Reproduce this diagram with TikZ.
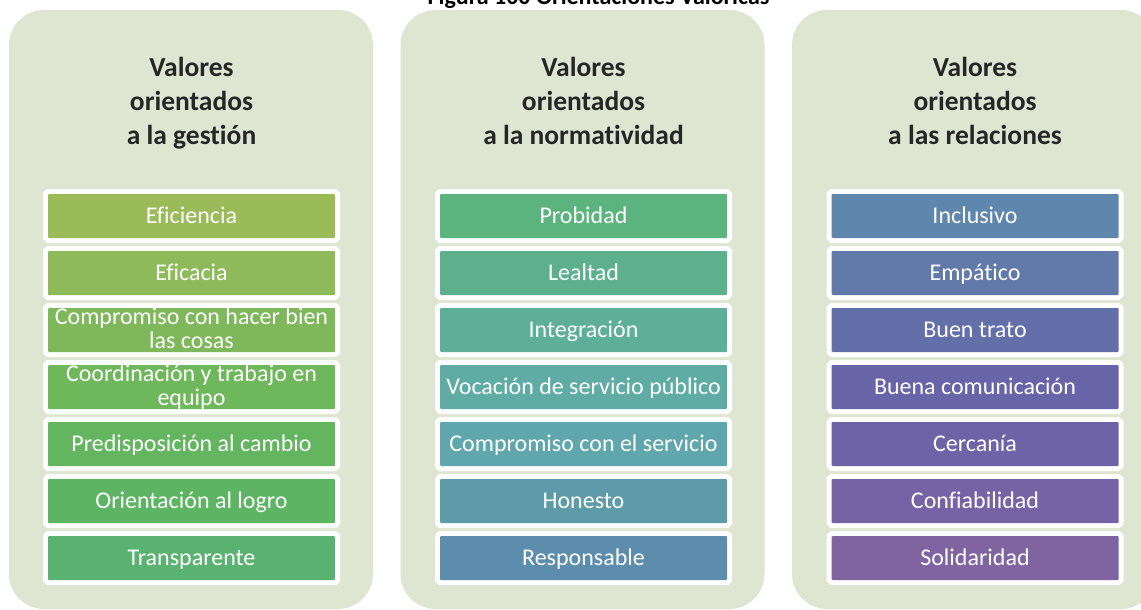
\documentclass[tikz,border=0pt]{standalone}
\usepackage{fontspec}
\setmainfont{Carlito}[Ligatures=NoCommon]
\definecolor{panelbg}{HTML}{DEE6D2}
\definecolor{hdrcol}{HTML}{262626}
\definecolor{ga}{HTML}{9BBB59}
\definecolor{gb}{HTML}{8EBA5A}
\definecolor{gc}{HTML}{7EB85B}
\definecolor{gd}{HTML}{6EB75B}
\definecolor{ge}{HTML}{63B55F}
\definecolor{gf}{HTML}{5DB564}
\definecolor{gg}{HTML}{59B26F}
\definecolor{na}{HTML}{5BB47E}
\definecolor{nb}{HTML}{5CB18C}
\definecolor{nc}{HTML}{5EAF98}
\definecolor{nd}{HTML}{5FACA5}
\definecolor{ne}{HTML}{5FA7AD}
\definecolor{nf}{HTML}{5E9BA9}
\definecolor{ng}{HTML}{5C8DAC}
\definecolor{ra}{HTML}{5F86AC}
\definecolor{rb}{HTML}{617AAA}
\definecolor{rc}{HTML}{636FA9}
\definecolor{rd}{HTML}{6764A7}
\definecolor{re}{HTML}{6D63A6}
\definecolor{rf}{HTML}{7663A5}
\definecolor{rg}{HTML}{8064A2}
\begin{document}
\begin{tikzpicture}[x=1pt,y=-1pt,
  panel/.style={fill=panelbg, rounded corners=35pt},
  vbox/.style={minimum width=287pt, minimum height=44pt, inner sep=0pt,
    rounded corners=1pt, preaction={draw=white, line width=10pt},
    text=white, font=\fontsize{24}{24}\selectfont, text height=17pt, text depth=2pt},
  vtxt/.style={text=white, font=\fontsize{24}{24}\selectfont, align=center, inner sep=0pt},
  hdr/.style={text=hdrcol, font=\fontsize{27.5}{34}\selectfont\bfseries, align=center, inner sep=0pt},
  ttl/.style={text=black, font=\fontsize{24}{24}\selectfont\bfseries, inner sep=0pt}]
\useasboundingbox (0,0) rectangle (1141,610);
% title (cut at the top edge)
\node[ttl, anchor=base] (title) at (598.5,5) {Figura 100 Orientaciones Valóricas};
% panels
\fill[panel] (9,10) rectangle (373,609);
\fill[panel] (400.5,10) rectangle (764.5,609);
\fill[panel] (792,10) rectangle (1156,609);
% headers (anchor base = last line)
\node[hdr, anchor=base] (h1) at (191.5,144) {Valores\\orientados\\a la gestión};
\node[hdr, anchor=base] (h2) at (583.5,144) {Valores\\orientados\\a la normatividad};
\node[hdr, anchor=base] (h3) at (975,144) {Valores\\orientados\\a las relaciones};
% column 1
\node[vbox, fill=ga] (g1) at (191.5,216) {Eficiencia};
\node[vbox, fill=gb] (g2) at (191.5,273) {Eficacia};
\node[vbox, fill=gc] (g3) at (191.5,330) {};
\node[vbox, fill=gd] (g4) at (191.5,387) {};
\node[vbox, fill=ge] (g5) at (191.5,444) {Predisposición al cambio};
\node[vbox, fill=gf] (g6) at (191.5,501) {Orientación al logro};
\node[vbox, fill=gg] (g7) at (191.5,558) {Transparente};
\node[vtxt, anchor=base] (g3t) at (191.5,348) {Compromiso con hacer bien\\las cosas};
\node[vtxt, anchor=base] (g4t) at (191.5,405) {Coordinación y trabajo en\\equipo};
% column 2
\node[vbox, fill=na] (n1) at (583.5,216) {Probidad};
\node[vbox, fill=nb] (n2) at (583.5,273) {Lealtad};
\node[vbox, fill=nc] (n3) at (583.5,330) {Integración};
\node[vbox, fill=nd] (n4) at (583.5,387) {Vocación de servicio público};
\node[vbox, fill=ne] (n5) at (583.5,444) {Compromiso con el servicio};
\node[vbox, fill=nf] (n6) at (583.5,501) {Honesto};
\node[vbox, fill=ng] (n7) at (583.5,558) {Responsable};
% column 3
\node[vbox, fill=ra] (r1) at (975,216) {Inclusivo};
\node[vbox, fill=rb] (r2) at (975,273) {Empático};
\node[vbox, fill=rc] (r3) at (975,330) {Buen trato};
\node[vbox, fill=rd] (r4) at (975,387) {Buena comunicación};
\node[vbox, fill=re] (r5) at (975,444) {Cercanía};
\node[vbox, fill=rf] (r6) at (975,501) {Confiabilidad};
\node[vbox, fill=rg] (r7) at (975,558) {Solidaridad};
\end{tikzpicture}
\end{document}
